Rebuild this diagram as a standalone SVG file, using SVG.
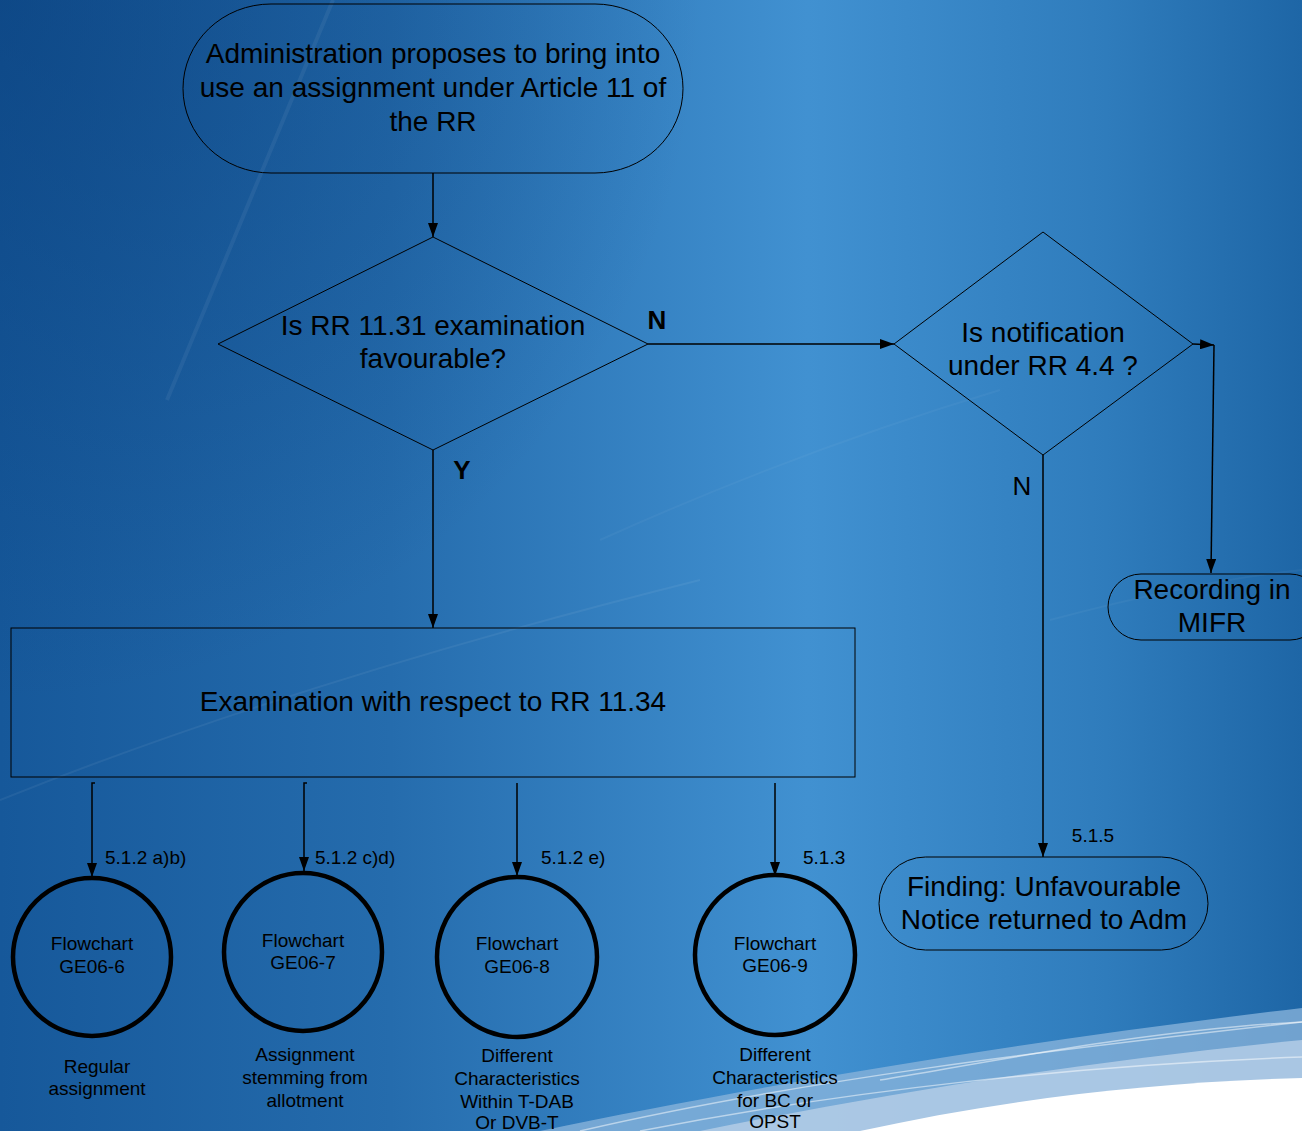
<svg xmlns="http://www.w3.org/2000/svg" width="1302" height="1131" viewBox="0 0 1302 1131">
<defs>
<linearGradient id="bg" x1="0" y1="0" x2="1" y2="0">
<stop offset="0" stop-color="#16589a"/>
<stop offset="0.3" stop-color="#256cad"/>
<stop offset="0.62" stop-color="#4191d1"/>
<stop offset="0.85" stop-color="#2f7cbc"/>
<stop offset="1" stop-color="#1e66a6"/>
</linearGradient>
<radialGradient id="corner" cx="0" cy="0" r="700" gradientUnits="userSpaceOnUse">
<stop offset="0" stop-color="#083c78" stop-opacity="0.55"/>
<stop offset="1" stop-color="#083c78" stop-opacity="0"/>
</radialGradient>
<marker id="arr" viewBox="0 0 14 10" refX="14" refY="5" markerWidth="14" markerHeight="10" markerUnits="userSpaceOnUse" orient="auto">
<path d="M0,0 L14,5 L0,10 Z" fill="#000"/>
</marker>
</defs>
<style>
.t{font-family:"Liberation Sans",Arial,sans-serif;fill:#000;text-anchor:middle}
.big{font-size:28px}
.sm{font-size:19px}
.shape{fill:none;stroke:#000;stroke-width:1}
.circ{fill:none;stroke:#000;stroke-width:4.5}
.con{fill:none;stroke:#000;stroke-width:1.5}
</style>
<rect width="1302" height="1131" fill="url(#bg)"/>
<rect width="1302" height="1131" fill="url(#corner)"/>
<g id="background-streaks" fill="none" stroke="#ffffff">
<path d="M333 0 L167 400" stroke-opacity="0.06" stroke-width="4"/>
<path d="M0 800 Q 300 680 700 580" stroke-opacity="0.06" stroke-width="2"/>
<path d="M600 540 Q 800 450 1000 390" stroke-opacity="0.04" stroke-width="2"/>
<path d="M1050 620 Q 1200 580 1302 570" stroke-opacity="0.04" stroke-width="2"/>
</g>
<g id="swoosh">
<path d="M540 1131 C 760 1085, 1030 1040, 1302 1008 L1302 1131 Z" fill="#86b2da" fill-opacity="0.8"/>
<path d="M700 1131 C 900 1090, 1100 1060, 1302 1040 L1302 1131 Z" fill="#b3cde6" fill-opacity="0.85"/>
<path d="M860 1131 C 1000 1100, 1150 1082, 1302 1078 L1302 1131 Z" fill="#ffffff"/>
<g fill="none" stroke="#ffffff" stroke-opacity="0.5" stroke-width="1.5">
<path d="M580 1131 C 800 1080, 1050 1050, 1302 1022"/>
<path d="M640 1131 C 850 1090, 1080 1065, 1302 1057"/>
<path d="M880 1080 C 1000 1060, 1150 1030, 1302 1022"/>
</g>
</g>
<g id="connectors">
<line class="con" x1="433" y1="173" x2="433" y2="237" marker-end="url(#arr)"/>
<line class="con" x1="648" y1="344" x2="894" y2="344" marker-end="url(#arr)"/>
<line class="con" x1="1193" y1="344" x2="1214" y2="345" marker-end="url(#arr)"/>
<line class="con" x1="1214" y1="345" x2="1211" y2="573" marker-end="url(#arr)"/>
<line class="con" x1="1043" y1="455" x2="1043" y2="857" marker-end="url(#arr)"/>
<line class="con" x1="433" y1="450" x2="433" y2="628" marker-end="url(#arr)"/>
<path class="con" d="M95 783 L92 783 L92 877" marker-end="url(#arr)"/>
<path class="con" d="M307 783 L304 783 L304 871" marker-end="url(#arr)"/>
<line class="con" x1="517" y1="783" x2="517" y2="876" marker-end="url(#arr)"/>
<line class="con" x1="775" y1="783" x2="775" y2="876" marker-end="url(#arr)"/>
<text class="t" x="657" y="329" style="font-size:26px;font-weight:bold">N</text>
<text class="t" x="462" y="479" style="font-size:26px;font-weight:bold">Y</text>
<text class="t" x="1022" y="495" style="font-size:26px">N</text>
<text class="t sm" x="1093" y="842">5.1.5</text>
<text class="t sm" x="105" y="864" style="text-anchor:start">5.1.2 a)b)</text>
<text class="t sm" x="315" y="864" style="text-anchor:start">5.1.2 c)d)</text>
<text class="t sm" x="541" y="864" style="text-anchor:start">5.1.2 e)</text>
<text class="t sm" x="803" y="864" style="text-anchor:start">5.1.3</text>
</g>
<g id="start">
<rect class="shape" x="183" y="4" width="500" height="169" rx="88" ry="84.5"/>
<text class="t big" x="433" y="63">Administration proposes to bring into</text>
<text class="t big" x="433" y="97">use an assignment under Article 11 of</text>
<text class="t big" x="433" y="131">the RR</text>
</g>
<g id="decision1">
<polygon class="shape" points="433,237 648,344 433,450 218,344"/>
<text class="t big" x="433" y="335">Is RR 11.31 examination</text>
<text class="t big" x="433" y="368">favourable?</text>
</g>
<g id="decision2">
<polygon class="shape" points="1043,232 1193,344 1043,455 894,344"/>
<text class="t big" x="1043" y="342">Is notification</text>
<text class="t big" x="1043" y="375">under RR 4.4 ?</text>
</g>
<g id="recording">
<rect class="shape" x="1108" y="574" width="215" height="66" rx="33" ry="33"/>
<text class="t big" x="1212" y="599">Recording in</text>
<text class="t big" x="1212" y="632">MIFR</text>
</g>
<g id="finding">
<rect class="shape" x="879" y="857" width="329" height="93" rx="46.5" ry="46.5"/>
<text class="t big" x="1044" y="896">Finding: Unfavourable</text>
<text class="t big" x="1044" y="929">Notice returned to Adm</text>
</g>
<g id="examination">
<rect class="shape" x="11" y="628" width="844" height="149"/>
<text class="t big" x="433" y="711">Examination with respect to RR 11.34</text>
</g>
<g id="fc6">
<circle class="circ" cx="92" cy="957" r="79"/>
<text class="t sm" x="92" y="950">Flowchart</text>
<text class="t sm" x="92" y="973">GE06-6</text>
<text class="t sm" x="97" y="1073">Regular</text>
<text class="t sm" x="97" y="1095">assignment</text>
</g>
<g id="fc7">
<circle class="circ" cx="303" cy="952" r="79"/>
<text class="t sm" x="303" y="947">Flowchart</text>
<text class="t sm" x="303" y="969">GE06-7</text>
<text class="t sm" x="305" y="1061">Assignment</text>
<text class="t sm" x="305" y="1084">stemming from</text>
<text class="t sm" x="305" y="1107">allotment</text>
</g>
<g id="fc8">
<circle class="circ" cx="517" cy="957" r="80"/>
<text class="t sm" x="517" y="950">Flowchart</text>
<text class="t sm" x="517" y="973">GE06-8</text>
<text class="t sm" x="517" y="1062">Different</text>
<text class="t sm" x="517" y="1085">Characteristics</text>
<text class="t sm" x="517" y="1108">Within T-DAB</text>
<text class="t sm" x="517" y="1129">Or DVB-T</text>
</g>
<g id="fc9">
<circle class="circ" cx="775" cy="955" r="80"/>
<text class="t sm" x="775" y="950">Flowchart</text>
<text class="t sm" x="775" y="972">GE06-9</text>
<text class="t sm" x="775" y="1061">Different</text>
<text class="t sm" x="775" y="1084">Characteristics</text>
<text class="t sm" x="775" y="1107">for BC or</text>
<text class="t sm" x="775" y="1128">OPST</text>
</g>
</svg>
